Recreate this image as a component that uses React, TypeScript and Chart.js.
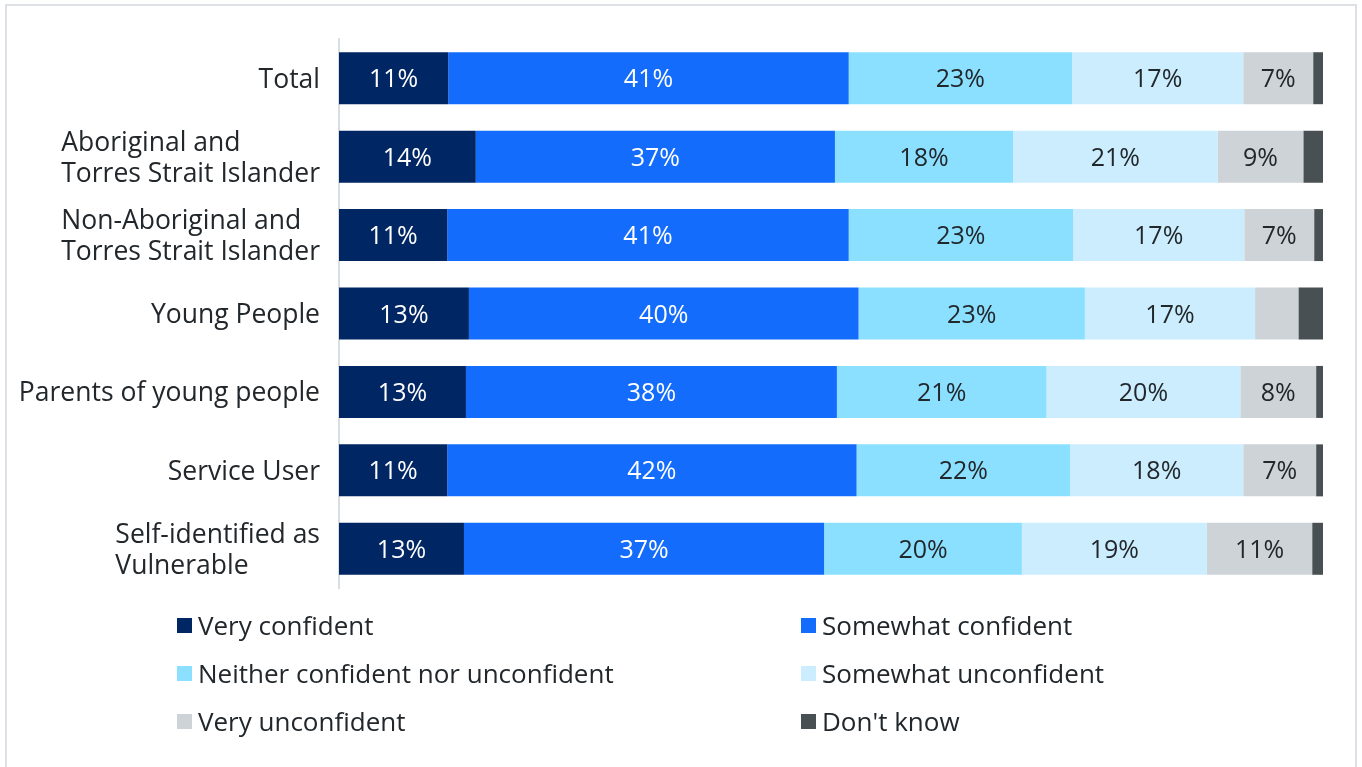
import React, { useEffect, useRef } from "react";
import { Chart, registerables } from "chart.js";

Chart.register(...registerables);

const categories: (string | string[])[] = [
  "Total",
  ["Aboriginal and", "Torres Strait Islander"],
  ["Non-Aboriginal and", "Torres Strait Islander"],
  "Young People",
  "Parents of young people",
  "Service User",
  ["Self-identified as", "Vulnerable"],
];

const seriesNames = [
  "Very confident",
  "Somewhat confident",
  "Neither confident nor unconfident",
  "Somewhat unconfident",
  "Very unconfident",
  "Don't know",
];

const veryConfident = [11.1, 13.9, 11.0, 13.2, 12.9, 11.0, 12.7];
const somewhatConfident = [40.7, 36.5, 40.8, 39.6, 37.7, 41.6, 36.6];
const neither = [22.7, 18.1, 22.8, 23.0, 21.3, 21.7, 20.1];
const somewhatUnconfident = [17.4, 20.8, 17.4, 17.3, 19.7, 17.6, 18.8];
const veryUnconfident = [7.1, 8.7, 7.1, 4.4, 7.7, 7.4, 10.7];
const dontKnow = [1.0, 2.0, 0.9, 2.5, 0.7, 0.7, 1.1];

const seriesValues = [veryConfident, somewhatConfident, neither, somewhatUnconfident, veryUnconfident, dontKnow];
const colors = ["#002664", "#146CFD", "#8CE0FF", "#CBEDFD", "#CDD3D6", "#495054"];
const labelColors = ["#FFFFFF", "#FFFFFF", "#22272B", "#22272B", "#22272B", "#22272B"];

const FONT = "'Open Sans', 'Noto Sans', sans-serif";
const TEXT = "#22272B";
const TICK_SIZE = 26.5;
const TICK_LINE = 31;

const dataLabelPlugin = {
  id: "dataLabels",
  afterDatasetsDraw(chart: any) {
    const ctx = chart.ctx;
    ctx.save();
    ctx.font = `25px ${FONT}`;
    ctx.textAlign = "center";
    ctx.textBaseline = "middle";
    chart.data.datasets.forEach((ds: any, di: number) => {
      const meta = chart.getDatasetMeta(di);
      meta.data.forEach((el: any, i: number) => {
        const v = ds.data[i];
        if (v < 5) return;
        ctx.fillStyle = labelColors[di];
        ctx.fillText(Math.round(v) + "%", (el.x + el.base) / 2, el.y + 2);
      });
    });
    ctx.restore();
  },
};

// Category labels: block right-aligned to the axis, lines left-aligned within the block
const categoryLabelPlugin = {
  id: "categoryLabels",
  afterDraw(chart: any) {
    const ctx = chart.ctx;
    const yScale = chart.scales.y;
    const right = yScale.right - 19;
    ctx.save();
    ctx.font = `${TICK_SIZE}px ${FONT}`;
    ctx.fillStyle = TEXT;
    ctx.textBaseline = "middle";
    chart.data.labels.forEach((lab: any, i: number) => {
      const lines: string[] = Array.isArray(lab) ? lab : [lab];
      const y = yScale.getPixelForTick(i) + 2;
      const maxW = Math.max(...lines.map((l) => ctx.measureText(l).width));
      const left = right - maxW;
      const startY = y - ((lines.length - 1) * TICK_LINE) / 2;
      lines.forEach((l, k) => {
        ctx.textAlign = lines.length > 1 ? "left" : "right";
        ctx.fillText(l, lines.length > 1 ? left : right, startY + k * TICK_LINE);
      });
    });
    ctx.restore();
  },
};

export default function App() {
  const ref = useRef<HTMLCanvasElement>(null);
  useEffect(() => {
    document.body.style.margin = "0";
    const chart = new Chart(ref.current!, {
      type: "bar",
      data: {
        labels: categories,
        datasets: seriesNames.map((name, i) => ({
          label: name,
          data: seriesValues[i],
          backgroundColor: colors[i],
          borderWidth: 0,
          barPercentage: 1,
          categoryPercentage: 0.663,
        })),
      },
      options: {
        indexAxis: "y",
        animation: false,
        responsive: false,
        maintainAspectRatio: false,
        layout: { padding: { top: 39, right: 39, bottom: 179, left: 0 } },
        plugins: { legend: { display: false }, tooltip: { enabled: false } },
        scales: {
          x: { stacked: true, min: 0, max: 100, display: false },
          y: {
            stacked: true,
            grid: { display: false, drawTicks: false },
            border: { display: true, color: "#D9DEE3", width: 2 },
            ticks: { display: false },
            afterFit(scale: any) {
              scale.width = 339;
            },
          },
        },
      },
      plugins: [dataLabelPlugin, categoryLabelPlugin],
    });
    return () => chart.destroy();
  }, []);

  const legendRow = (i: number) => (
    <div key={i} style={{ display: "flex", alignItems: "center", height: 48 }}>
      <span style={{ width: 15, height: 15, background: colors[i], display: "inline-block", marginRight: 6 }} />
      <span style={{ fontFamily: FONT, fontSize: 26, color: TEXT, whiteSpace: "nowrap" }}>{seriesNames[i]}</span>
    </div>
  );

  return (
    <div style={{ position: "relative", width: 1362, height: 767, overflow: "hidden", background: "#fff" }}>
      <div
        style={{
          position: "absolute",
          left: 5,
          top: 4,
          width: 1352,
          height: 800,
          border: "2px solid #DDE1E5",
          boxSizing: "border-box",
        }}
      />
      <canvas ref={ref} width={1362} height={767} style={{ position: "absolute", left: 0, top: 0 }} />
      <div style={{ position: "absolute", left: 177, top: 601, display: "grid", gridTemplateColumns: "624px 400px" }}>
        {[0, 1, 2, 3, 4, 5].map((i) => legendRow(i))}
      </div>
    </div>
  );
}
